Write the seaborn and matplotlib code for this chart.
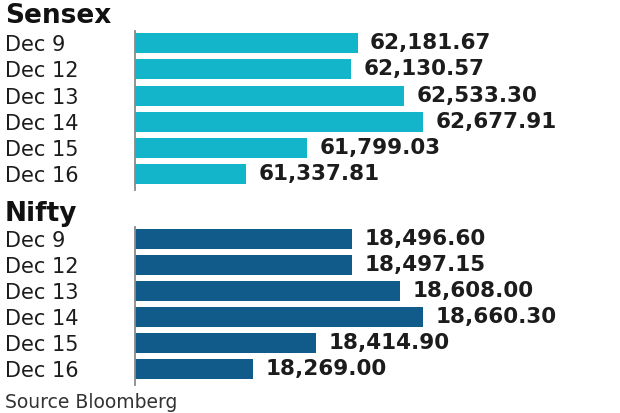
import matplotlib
matplotlib.use("Agg")
import matplotlib.pyplot as plt
import seaborn as sns

# ─── Data ────────────────────────────────────────────────────────────────────

dates = ["Dec 9", "Dec 12", "Dec 13", "Dec 14", "Dec 15", "Dec 16"]
sensex = [62181.67, 62130.57, 62533.30, 62677.91, 61799.03, 61337.81]
nifty = [18496.60, 18497.15, 18608.00, 18660.30, 18414.90, 18269.00]

SENSEX_COLOR = "#12b5ca"
NIFTY_COLOR = "#115b8b"
TEXT_COLOR = "#1c1c1c"

sns.set_theme(style="white")
plt.rcParams["font.family"] = ["DejaVu Sans"]

W, H = 620, 413
fig = plt.figure(figsize=(6.2, 4.13), dpi=100)


def panel(bottom_px, top_px, values, color, xlim):
    ax = fig.add_axes([135 / W, 1 - bottom_px / H, 1 - 135 / W, (bottom_px - top_px) / H])
    sns.barplot(x=values, y=dates, color=color, saturation=1, width=0.76,
                orient="h", linewidth=0, ax=ax)
    ax.set_xlim(*xlim)
    ax.set_ylim(5.58, -0.46)
    for side in ["top", "right", "bottom"]:
        ax.spines[side].set_visible(False)
    ax.spines["left"].set_color("#8a8a8a")
    ax.spines["left"].set_linewidth(1.3)
    ax.set_xticks([])
    ax.set_xlabel("")
    ax.set_ylabel("")
    ax.tick_params(axis="y", length=0, pad=130 * 0.72, labelsize=15, labelcolor=TEXT_COLOR)
    for lab in ax.get_yticklabels():
        lab.set_horizontalalignment("left")
    ax.bar_label(ax.containers[0], labels=[f"{v:,.2f}" for v in values],
                 padding=9, fontsize=15.5, fontweight="bold", color=TEXT_COLOR)
    ax.set_facecolor("none")
    return ax


panel(189.5, 31, sensex, SENSEX_COLOR, (60497, 64168))
panel(384.5, 227, nifty, NIFTY_COLOR, (17997, 19114))

fig.text(5 / W, 1 - 23 / H, "Sensex", fontsize=19, fontweight="bold",
         color="#111111", va="baseline", ha="left")
fig.text(5 / W, 1 - 221 / H, "Nifty", fontsize=19, fontweight="bold",
         color="#111111", va="baseline", ha="left")
fig.text(5 / W, 1 - 408 / H, "Source Bloomberg", fontsize=13.5,
         color="#333333", va="baseline", ha="left")

plt.savefig("out.png", dpi=100)
plt.close()
